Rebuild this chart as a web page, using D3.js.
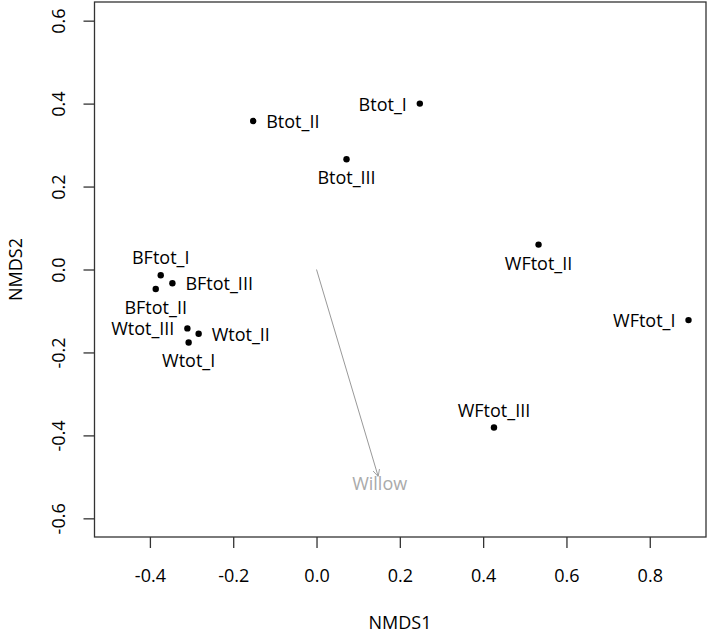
<!DOCTYPE html>
<html>
<head>
<meta charset="utf-8">
<script src="https://cdn.jsdelivr.net/npm/d3@7"></script>
<style>
  body { margin: 0; background: #fff; }
  svg text { font-family: 'Open Sans', 'Noto Sans', sans-serif; fill: #000; }
</style>
</head>
<body>
<div class="viz"></div>
<script>
// site scores (NMDS1, NMDS2) and where R put each label
const sites = ['Btot_I', 'Btot_II', 'Btot_III', 'WFtot_I', 'WFtot_II', 'WFtot_III',
  'BFtot_I', 'BFtot_II', 'BFtot_III', 'Wtot_I', 'Wtot_II', 'Wtot_III'];
const nmds1 = [0.248, -0.152, 0.072, 0.893, 0.533, 0.426,
  -0.374, -0.386, -0.346, -0.307, -0.283, -0.310];
const nmds2 = [0.400, 0.358, 0.266, -0.122, 0.060, -0.381,
  -0.014, -0.047, -0.033, -0.176, -0.155, -0.142];
const labelPos = ['left', 'right', 'below', 'left', 'below', 'above',
  'above', 'below', 'right', 'below', 'right', 'left'];

// environmental vector
const vecName = 'Willow';
const vecEnd = [0.148, -0.499];

const xTicks = [-0.4, -0.2, 0.0, 0.2, 0.4, 0.6, 0.8];
const yTicks = [-0.6, -0.4, -0.2, 0.0, 0.2, 0.4, 0.6];

const margin = { top: 2, right: 2, bottom: 98, left: 94.5 },
  width = 708 - margin.left - margin.right,
  height = 635 - margin.top - margin.bottom;

const x = d3.scaleLinear().domain([-0.533, 0.935]).range([0, width]);
const y = d3.scaleLinear().domain([-0.645, 0.645]).range([height, 0]);

const svg = d3.select('.viz')
  .append('svg')
  .attr('width', 708)
  .attr('height', 635)
  .append('g')
  .attr('transform', 'translate(' + margin.left + ',' + margin.top + ')');

svg.append('rect')
  .attr('width', width)
  .attr('height', height)
  .attr('fill', 'none')
  .attr('stroke', '#333')
  .attr('stroke-width', 1.3);

const fmt = d => d.toFixed(1);
const fs = 18;

const xAxis = svg.append('g')
  .attr('transform', 'translate(0,' + height + ')')
  .call(d3.axisBottom(x).tickValues(xTicks).tickFormat(fmt).tickSize(11).tickPadding(21));
xAxis.select('.domain').remove();
xAxis.selectAll('line').attr('stroke', '#333').attr('stroke-width', 1.3);
xAxis.selectAll('text').attr('font-size', fs).attr('font-family', null).attr('fill', null);

const yAxis = svg.append('g')
  .call(d3.axisLeft(y).tickValues(yTicks).tickFormat(fmt).tickSize(11));
yAxis.select('.domain').remove();
yAxis.selectAll('line').attr('stroke', '#333').attr('stroke-width', 1.3);
yAxis.selectAll('text')
  .attr('font-size', fs)
  .attr('font-family', null)
  .attr('fill', null)
  .attr('x', null)
  .attr('dy', null)
  .attr('text-anchor', 'middle')
  .attr('dominant-baseline', 'central')
  .attr('transform', 'translate(-36.5,0) rotate(-90)');

svg.append('text')
  .attr('x', 400 - margin.left)
  .attr('y', 629 - margin.top)
  .attr('text-anchor', 'middle')
  .attr('font-size', fs)
  .text('NMDS1');

svg.append('text')
  .attr('transform', 'translate(' + (15 - margin.left) + ',' + y(0) + ') rotate(-90)')
  .attr('text-anchor', 'middle')
  .attr('dominant-baseline', 'central')
  .attr('font-size', fs)
  .text('NMDS2');

// arrow
svg.append('defs').append('marker')
  .attr('id', 'head')
  .attr('viewBox', '0 0 10 10')
  .attr('refX', 10).attr('refY', 5)
  .attr('markerWidth', 7).attr('markerHeight', 7)
  .attr('markerUnits', 'userSpaceOnUse')
  .attr('orient', 'auto')
  .append('path')
  .attr('d', 'M0,0 L10,5 L0,10')
  .attr('fill', 'none')
  .attr('stroke', '#999')
  .attr('stroke-width', 1.2);

svg.append('line')
  .attr('x1', x(0)).attr('y1', y(0))
  .attr('x2', x(vecEnd[0])).attr('y2', y(vecEnd[1]))
  .attr('stroke', '#999')
  .attr('stroke-width', 1)
  .attr('marker-end', 'url(#head)');

svg.append('text')
  .attr('x', x(vecEnd[0]) + 1.5)
  .attr('y', y(vecEnd[1]) + 7)
  .attr('text-anchor', 'middle')
  .attr('dominant-baseline', 'central')
  .attr('font-size', fs)
  .style('fill', '#aaa')
  .text(vecName);

const data = sites.map((s, i) => ({ name: s, x: nmds1[i], y: nmds2[i], pos: labelPos[i] }));

svg.selectAll('circle.site')
  .data(data)
  .join('circle')
  .attr('class', 'site')
  .attr('cx', d => x(d.x))
  .attr('cy', d => y(d.y))
  .attr('r', 3.2)
  .attr('fill', '#000');

const off = 13;
svg.selectAll('text.site')
  .data(data)
  .join('text')
  .attr('class', 'site')
  .attr('font-size', fs)
  .attr('dominant-baseline', 'central')
  .attr('text-anchor', d => d.pos === 'left' ? 'end' : d.pos === 'right' ? 'start' : 'middle')
  .attr('x', d => x(d.x) + (d.pos === 'left' ? -off : d.pos === 'right' ? off : 0))
  .attr('y', d => y(d.y) + (d.pos === 'above' ? -18 : d.pos === 'below' ? 18 : 0))
  .text(d => d.name);
</script>
</body>
</html>
